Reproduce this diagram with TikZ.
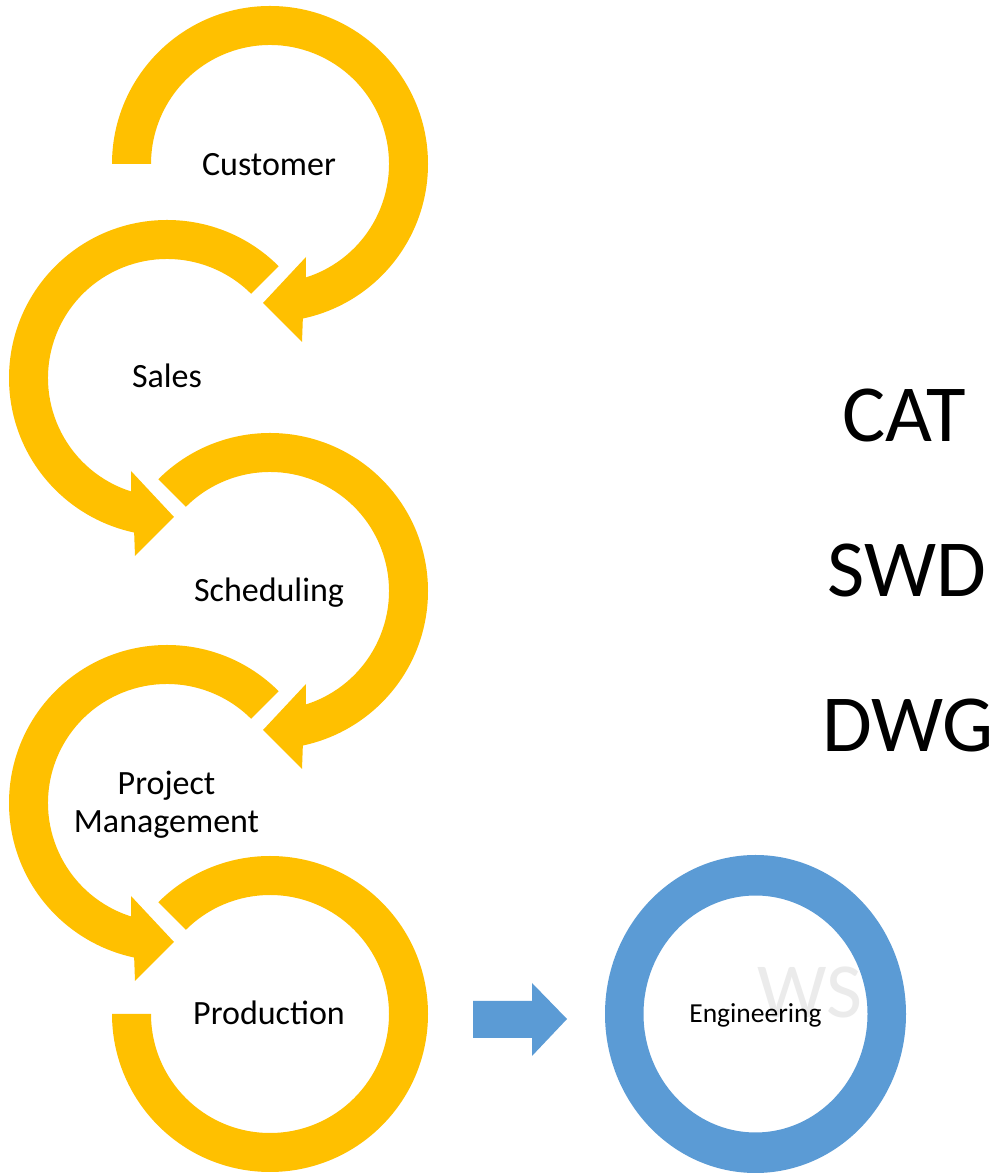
\documentclass[tikz,border=0pt]{standalone}
\usepackage{fontspec}
\setmainfont{Carlito}
\usetikzlibrary{calc}
\definecolor{gold}{HTML}{FFC000}
\definecolor{sky}{HTML}{5B9BD5}
\newcommand\yarrowR[2]{%
  \fill[gold] ($(#1)+(#2:158)$) arc[start angle=#2, end angle=-78, radius=158]
    -- ($(#1)+(32,-178)$) -- ($(#1)+(-7,-139)$) -- ($(#1)+(36,-93)$)
    -- ($(#1)+(-72.5:119)$) arc[start angle=-72.5, end angle=#2, radius=119] -- cycle;}
\newcommand\yarrowL[1]{%
  \fill[gold] ($(#1)+(45:158)$) arc[start angle=45, end angle=258, radius=158]
    -- ($(#1)+(-32,-178)$) -- ($(#1)+(7,-139)$) -- ($(#1)+(-36,-93)$)
    -- ($(#1)+(252.5:119)$) arc[start angle=252.5, end angle=45, radius=119] -- cycle;}
\begin{document}
\begin{tikzpicture}[x=1pt,y=1pt,
  lbl/.style={font=\fontsize{34}{38}\selectfont, anchor=base, inner sep=0pt},
  big/.style={font=\fontsize{81}{90}\selectfont, anchor=base, inner sep=0pt}]
\useasboundingbox (0,0) rectangle (1001,1175);
\fill[white] (0,0) rectangle (1001,1175);
\coordinate (c1) at (270,1011);
\coordinate (c2) at (167,797);
\coordinate (c3) at (270,584);
\coordinate (c4) at (167,372);
\coordinate (c5) at (270,161);
\coordinate (ce) at (755.5,161);
% watermark
\node[anchor=base, inner sep=0pt, text=black!8, font=\fontsize{78}{80}\selectfont] (wm) at (810,157) {WS};
% yellow circular arrows
\yarrowR{c1}{180}
\yarrowL{c2}
\yarrowR{c3}{135}
\yarrowL{c4}
\fill[gold] ($(c5)+(135:158)$) arc[start angle=135, end angle=-180, radius=158]
  -- ($(c5)+(180:119)$) arc[start angle=-180, end angle=135, radius=119] -- cycle;
% blue arrow and ring
\fill[sky] (473,174) -- (532,174) -- (532,192) -- (567,156) -- (532,119) -- (532,137) -- (473,137) -- cycle;
\fill[sky, even odd rule] (ce) ellipse [x radius=150.5, y radius=159] (ce) ellipse [x radius=112, y radius=118.5];
% labels
\node[lbl] (cust) at (269,999) {Customer};
\node[lbl] (sales) at (167,787) {Sales};
\node[lbl] (sched) at (269,573) {Scheduling};
\node[lbl] (pm1) at (166.5,380) {Project};
\node[lbl] (pm2) at (166.5,342) {Management};
\node[lbl] (prod) at (269,150) {Production};
\node[lbl, font=\fontsize{27.5}{30}\selectfont] (eng) at (755.5,152) {Engineering};
\node[big] (cat) at (904,733) {CAT};
\node[big] (swd) at (907,578) {SWD};
\node[big] (dwg) at (908,423) {DWG};
\end{tikzpicture}
\end{document}
